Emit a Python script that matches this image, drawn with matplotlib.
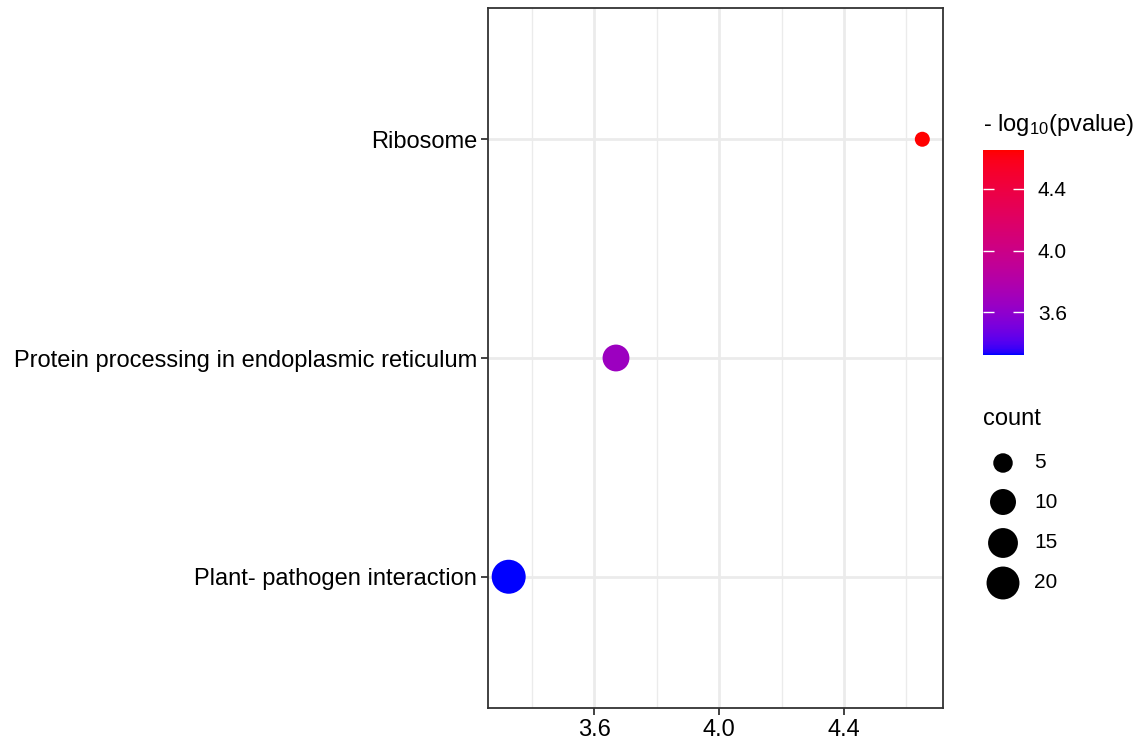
import numpy as np
import matplotlib
matplotlib.use("Agg")
import matplotlib.pyplot as plt
from matplotlib.colors import ListedColormap, Normalize

# Pathway enrichment results
pathways = ["Plant- pathogen interaction",
            "Protein processing in endoplasmic reticulum",
            "Ribosome"]
neg_log10_p = [3.325, 3.669, 4.651]
counts = [22, 11, 4]

legend_counts = [5, 10, 15, 20]
x_ticks = [3.6, 4.0, 4.4]
cbar_ticks = [3.6, 4.0, 4.4]

plt.rcParams["font.family"] = ["Liberation Sans", "DejaVu Sans"]
W, H = 1139, 742
DPI = 100


# --- CIELAB interpolation between two colours (blue -> red) ---
def srgb_to_lab(rgb):
    rgb = np.asarray(rgb, float)
    lin = np.where(rgb <= 0.04045, rgb / 12.92, ((rgb + 0.055) / 1.055) ** 2.4)
    M = np.array([[0.4124564, 0.3575761, 0.1804375],
                  [0.2126729, 0.7151522, 0.0721750],
                  [0.0193339, 0.1191920, 0.9503041]])
    xyz = M @ lin / np.array([0.95047, 1.0, 1.08883])
    f = np.where(xyz > (6 / 29) ** 3, np.cbrt(xyz), xyz / (3 * (6 / 29) ** 2) + 4 / 29)
    return np.array([116 * f[1] - 16, 500 * (f[0] - f[1]), 200 * (f[1] - f[2])])


def lab_to_srgb(lab):
    L, a, b = lab
    fy = (L + 16) / 116
    fx = fy + a / 500
    fz = fy - b / 200
    f = np.array([fx, fy, fz])
    xyz = np.where(f > 6 / 29, f ** 3, 3 * (6 / 29) ** 2 * (f - 4 / 29))
    xyz = xyz * np.array([0.95047, 1.0, 1.08883])
    Minv = np.array([[3.2404542, -1.5371385, -0.4985314],
                     [-0.9692660, 1.8760108, 0.0415560],
                     [0.0556434, -0.2040259, 1.0572252]])
    lin = Minv @ xyz
    lin = np.clip(lin, 0, 1)
    rgb = np.where(lin <= 0.0031308, 12.92 * lin, 1.055 * lin ** (1 / 2.4) - 0.055)
    return np.clip(rgb, 0, 1)


lab_lo = srgb_to_lab([0, 0, 1])
lab_hi = srgb_to_lab([1, 0, 0])
ramp = [lab_to_srgb(lab_lo + t * (lab_hi - lab_lo)) for t in np.linspace(0, 1, 256)]
cmap = ListedColormap(ramp)
norm = Normalize(vmin=min(neg_log10_p), vmax=max(neg_log10_p))

# --- area-based size scale ---
cmin, cmax = min(counts), max(counts)
d_lo, d_hi = 15.0, 34.0  # marker diameters in pixels


def marker_area(c):
    c = np.asarray(c, float)
    d = d_lo + (d_hi - d_lo) * np.sqrt((c - cmin) / (cmax - cmin))
    return (d * 72.0 / DPI) ** 2


fig = plt.figure(figsize=(W / DPI, H / DPI), dpi=DPI)
ax = fig.add_axes([488 / W, (H - 708) / H, (943 - 488) / W, 700 / H])

ypos = np.arange(1, len(pathways) + 1)
ax.scatter(neg_log10_p, ypos, s=marker_area(counts), c=neg_log10_p,
           cmap=cmap, norm=norm, linewidths=0, zorder=3)

span = max(neg_log10_p) - min(neg_log10_p)
ax.set_xlim(min(neg_log10_p) - 0.05 * span, max(neg_log10_p) + 0.05 * span)
ax.set_ylim(0.4, len(pathways) + 0.6)
ax.set_xticks(x_ticks)
ax.set_xticklabels([f"{t:.1f}" for t in x_ticks])
ax.set_xticks([3.4, 3.8, 4.2, 4.6], minor=True)
ax.set_yticks(ypos)
ax.set_yticklabels(pathways)

ax.grid(which="major", color="#EBEBEB", linewidth=2.0, zorder=0)
ax.grid(which="minor", axis="x", color="#EBEBEB", linewidth=1.0, zorder=0)
ax.set_axisbelow(True)
for sp in ax.spines.values():
    sp.set_color("#333333")
    sp.set_linewidth(1.3)
ax.tick_params(which="major", length=5, width=1.3, color="#333333",
               labelsize=17, labelcolor="black", pad=3)
ax.tick_params(which="minor", length=0)

# --- colour bar ---
cax = fig.add_axes([983 / W, (H - 355) / H, 41 / W, 205 / H])
sm = plt.cm.ScalarMappable(cmap=cmap, norm=norm)
cb = fig.colorbar(sm, cax=cax, ticks=cbar_ticks)
cb.outline.set_visible(False)
cb.ax.set_yticklabels([f"{t:.1f}" for t in cbar_ticks])
cb.ax.tick_params(direction="in", length=8, width=1.0, color="white",
                  left=True, right=True, labelsize=15, pad=10)
fig.text(983 / W, (H - 125) / H, r"- log$\mathregular{_{10}}$(pvalue)",
         fontsize=17, ha="left", va="center")

# --- size legend ---
lax = fig.add_axes([0, 0, 1, 1])
lax.set_xlim(0, W)
lax.set_ylim(H, 0)
lax.axis("off")
lax.text(983, 419, "count", fontsize=17, ha="left", va="center")
key_y = [463, 502, 543, 583]
lax.scatter([1003] * len(legend_counts), key_y, s=marker_area(legend_counts),
            color="black", linewidths=0)
for yk, c in zip(key_y, legend_counts):
    lax.text(1034, yk, str(c), fontsize=15, ha="left", va="center")

fig.savefig("out.png", dpi=DPI)
